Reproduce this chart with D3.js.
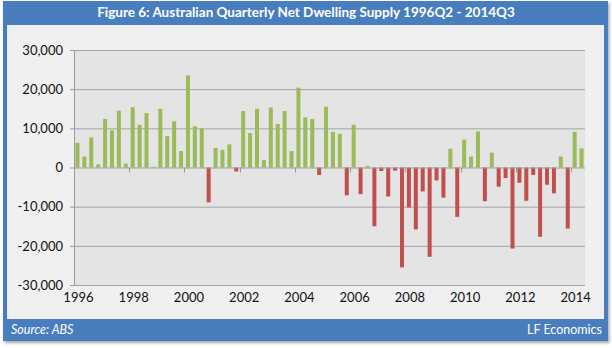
<!DOCTYPE html>
<html>
<head>
<meta charset="utf-8">
<script src="https://cdn.jsdelivr.net/npm/d3@7"></script>
<style>
  body { margin: 0; background: #fff; }
  svg text { font-family: Lato, "Open Sans", sans-serif; }
</style>
</head>
<body>
<svg id="chart" width="612" height="348"></svg>
<script>
/**********************
 Data
**********************/
// net dwelling supply per quarter, 1996Q2 .. 2014Q3
var supply = [
   6300,   2800,   7700,    800,  12400,   9500,  14500,   1000,  15400,  10900,  13900,    200,
  15000,   8000,  11800,   4200,  23500,  10500,  10000,  -8900,   5000,   4500,   5900,  -1000,
  14400,   8800,  15000,   1900,  15300,  11100,  14400,   4200,  20400,  12800,  12400,  -1900,
  15500,   9100,   8600,  -7100,  10900,  -6800,    400, -15000,   -900,  -7400,   -800, -25500,
 -10200, -15800,  -6100, -22800,  -3300,  -7700,   4800, -12600,   7100,   2800,   9200,  -8600,
   3800,  -4900,  -2700, -20700,  -3900,  -8500,  -1900, -17700,  -4400,  -6600,   2800, -15600,
   9100,   4900
];
var firstYear = 1996, firstQuarter = 2;
var yTicks = [-30000, -20000, -10000, 0, 10000, 20000, 30000];
var yearLabels = [1996, 1998, 2000, 2002, 2004, 2006, 2008, 2010, 2012, 2014];

// quarter keys like "1996Q2"
var quarters = supply.map(function(d, i) {
  var q = firstQuarter - 1 + i;
  return (firstYear + Math.floor(q / 4)) + 'Q' + (q % 4 + 1);
});

/**********************
 Layout
**********************/
var svg = d3.select('#chart');
var plot = {l: 74, r: 585, t: 50, b: 285};

var defs = svg.append('defs');
var shadow = defs.append('filter').attr('id', 'shadow')
    .attr('x', '-5%').attr('y', '-5%').attr('width', '110%').attr('height', '115%');
shadow.append('feDropShadow')
    .attr('dx', 1.5).attr('dy', 2).attr('stdDeviation', 1.8)
    .attr('flood-color', '#000').attr('flood-opacity', 0.35);

// blue frame, title bar and footer
svg.append('rect')
    .attr('x', 3).attr('y', 1).attr('width', 605).attr('height', 340)
    .attr('fill', '#4A7EBE')
    .attr('filter', 'url(#shadow)');
svg.append('rect')
    .attr('x', 7).attr('y', 25).attr('width', 597).attr('height', 294)
    .attr('fill', '#F0F0F0');

svg.append('text')
    .attr('x', 306).attr('y', 17)
    .attr('text-anchor', 'middle')
    .attr('fill', '#fff')
    .attr('font-size', 13.5)
    .attr('font-weight', 'bold')
    .text('Figure 6: Australian Quarterly Net Dwelling Supply 1996Q2 - 2014Q3');

svg.append('text')
    .attr('x', 11).attr('y', 334)
    .attr('fill', '#fff')
    .attr('font-size', 12.5)
    .attr('font-style', 'italic')
    .text('Source: ABS');
svg.append('text')
    .attr('x', 602).attr('y', 334)
    .attr('text-anchor', 'end')
    .attr('fill', '#fff')
    .attr('font-size', 12.5)
    .text('LF Economics');

/**********************
 Scales
**********************/
var x = d3.scaleBand()
    .domain(quarters)
    .range([plot.l, plot.r])
    .paddingInner(0.42)
    .paddingOuter(0.21);
var y = d3.scaleLinear()
    .domain([-30000, 30000])
    .range([plot.b, plot.t]);

var fmt = d3.formatLocale({decimal: '.', thousands: ',', grouping: [3], currency: ['$', ''], minus: '-'}).format(',');

// plot area
svg.append('rect')
    .attr('x', plot.l).attr('y', plot.t)
    .attr('width', plot.r - plot.l).attr('height', plot.b - plot.t)
    .attr('fill', '#E4E4E4');

// y axis with gridlines
var yAxisG = svg.append('g')
    .attr('transform', 'translate(' + plot.l + ',0)')
    .call(d3.axisLeft(y).tickValues(yTicks).tickFormat(fmt).tickSize(4).tickPadding(7));
yAxisG.select('.domain').attr('stroke', '#9a9a9a');
yAxisG.selectAll('.tick line').attr('stroke', '#9a9a9a');
yAxisG.selectAll('.tick text')
    .attr('font-size', 13)
    .attr('fill', '#111')
    .style('font-family', 'Lato, "Open Sans", sans-serif');

svg.append('g').selectAll('line')
    .data(yTicks.filter(function(d) { return d !== 0; }))
    .enter().append('line')
    .attr('x1', plot.l).attr('x2', plot.r)
    .attr('y1', function(d) { return y(d) + 0.5; })
    .attr('y2', function(d) { return y(d) + 0.5; })
    .attr('stroke', '#a4a4a4')
    .attr('stroke-width', 1);

/**********************
 Bars
**********************/
svg.append('g').selectAll('rect')
    .data(supply)
    .enter().append('rect')
    .attr('x', function(d, i) { return x(quarters[i]); })
    .attr('width', x.bandwidth())
    .attr('y', function(d) { return y(Math.max(0, d)); })
    .attr('height', function(d) { return Math.abs(y(d) - y(0)); })
    .attr('fill', function(d) { return d >= 0 ? '#9BBB59' : '#C0504D'; });

// category axis along zero, ticks every two years
var step = x.step();
var xAxisG = svg.append('g');
xAxisG.append('line')
    .attr('x1', plot.l).attr('x2', plot.r)
    .attr('y1', y(0) + 0.5).attr('y2', y(0) + 0.5)
    .attr('stroke', '#9a9a9a');
xAxisG.selectAll('.xtick')
    .data(yearLabels)
    .enter().append('line')
    .attr('class', 'xtick')
    .attr('x1', function(d, i) { return Math.round(plot.l + i * 8 * step) + 0.5; })
    .attr('x2', function(d, i) { return Math.round(plot.l + i * 8 * step) + 0.5; })
    .attr('y1', y(0)).attr('y2', y(0) + 5)
    .attr('stroke', '#9a9a9a');

// year labels sit at the bottom of the plot
svg.append('g').selectAll('text')
    .data(yearLabels)
    .enter().append('text')
    .attr('x', function(d) { return x(d + 'Q2') + x.bandwidth() / 2 + 1; })
    .attr('y', plot.b + 17)
    .attr('text-anchor', 'middle')
    .attr('font-size', 13)
    .attr('fill', '#111')
    .text(function(d) { return d; });
</script>
</body>
</html>
